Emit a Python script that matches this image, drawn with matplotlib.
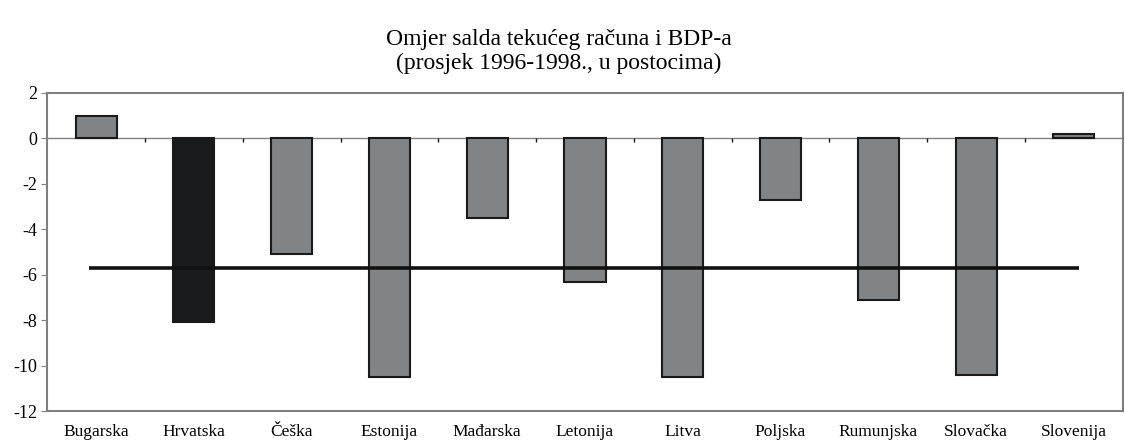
import numpy as np
import matplotlib
matplotlib.use("Agg")
from matplotlib import pyplot as plt

zemlje = ["Bugarska", "Hrvatska", "Češka", "Estonija", "Mađarska", "Letonija",
          "Litva", "Poljska", "Rumunjska", "Slovačka", "Slovenija"]
saldo = [1.0, -8.1, -5.1, -10.5, -3.5, -6.3, -10.5, -2.7, -7.1, -10.4, 0.2]
prosjek = -5.7
yticks = [2, 0, -2, -4, -6, -8, -10, -12]

boje = ["#808487"] * len(zemlje)
boje[1] = "#1a1b1d"

fig = plt.figure(figsize=[11.25, 4.44], dpi=100)
ax = fig.add_axes([0.042, 0.074, 0.956, 0.717])

x = np.arange(len(zemlje))
ax.bar(x, saldo, width=0.42, color=boje, edgecolor="#1a1a1a", linewidth=1.5, zorder=3)
ax.axhline(0, color="#808080", linewidth=1.0, zorder=2)
# male oznake granica kategorija na nultoj osi
ax.vlines(x[:-1] + 0.5, -0.18, 0, color="#1a1a1a", linewidth=1.0, zorder=2)
ax.hlines(prosjek, -0.07, 10.05, color="#111111", linewidth=2.6, zorder=4)

ax.set_xlim(-0.5, len(zemlje) - 0.5)
ax.set_ylim(-12, 2)
ax.set_yticks(yticks)
ax.set_yticklabels([str(v) for v in yticks], family="Liberation Serif", fontsize=13)
ax.set_xticks(x)
ax.set_xticklabels(zemlje, family="Liberation Serif", fontsize=12.5)
ax.tick_params(axis="x", length=0, pad=9)
ax.tick_params(axis="y", length=4, color="#808080", pad=3)
for s in ax.spines.values():
    s.set_color("#808080")
    s.set_linewidth(1.5)

fig.text(0.497, 0.912, "Omjer salda tekućeg računa i BDP-a", ha="center", va="center",
         family="Liberation Serif", fontsize=17)
fig.text(0.497, 0.857, "(prosjek 1996-1998., u postocima)", ha="center", va="center",
         family="Liberation Serif", fontsize=17)

plt.savefig("out.png", dpi=100)
